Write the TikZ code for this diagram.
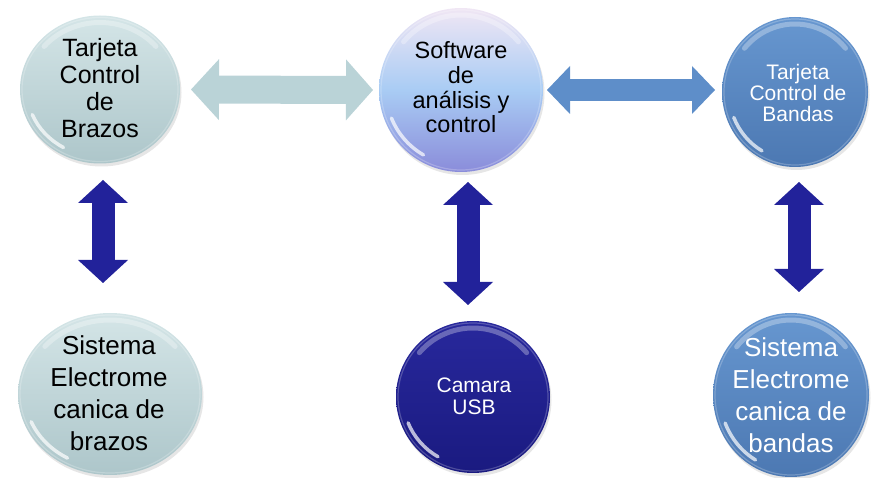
\documentclass[tikz,border=0pt]{standalone}
\usepackage{fontspec}
\setmainfont{Liberation Sans}
\usetikzlibrary{shapes.geometric,arrows.meta,shadows}

\definecolor{tlA}{HTML}{D4E5E7}
\definecolor{tlB}{HTML}{ADC6CA}
\definecolor{swA}{HTML}{F0E6F4}
\definecolor{swM}{HTML}{A9CCF4}
\definecolor{swB}{HTML}{8A8CDA}
\definecolor{stA}{HTML}{6797D0}
\definecolor{stB}{HTML}{4C78B2}
\definecolor{nvA}{HTML}{28289C}
\definecolor{nvB}{HTML}{1A1A80}
\definecolor{arL}{HTML}{BAD3D7}
\definecolor{arS}{HTML}{5E8EC9}
\definecolor{arN}{HTML}{22229A}

\newcommand{\bubblegloss}[3]{%
  \draw[white, opacity=.22, line width=1.2pt] (#1.center) ellipse [x radius={#2-2}, y radius={#3-2}];
  \draw[white, opacity=.3, line width=5pt, line cap=round]
    (#1.center) ++(-140:{#2-7} and {#3-7}) arc[start angle=-140, end angle=-40, x radius={#2-7}, y radius={#3-7}];
  \draw[white, opacity=.7, line width=3.5pt, line cap=round]
    (#1.center) ++(120:{#2-7} and {#3-7}) arc[start angle=120, end angle=158, x radius={#2-7}, y radius={#3-7}];
}

\tikzset{
  bubble/.style={ellipse, inner sep=0pt, outer sep=0pt, draw=none,
    drop shadow={opacity=.2, shadow xshift=1.5pt, shadow yshift=-3pt}},
  lbl/.style={align=center, inner sep=0pt},
  harrowL/.style={draw=arL, line width=28pt,
    {Triangle[length=28pt,width=61pt,line width=0pt]}-{Triangle[length=27pt,width=61pt,line width=0pt]}},
  harrowS/.style={draw=arS, line width=22pt,
    {Triangle[length=23pt,width=48pt,line width=0pt]}-{Triangle[length=23pt,width=48pt,line width=0pt]}},
  varrow/.style={draw=arN, line width=23pt,
    {Triangle[length=23pt,width=50pt,line width=0pt]}-{Triangle[length=23pt,width=50pt,line width=0pt]}},
}

\begin{document}
\begin{tikzpicture}[x=1pt,y=-1pt]
\useasboundingbox (0,0) rectangle (871,478);

% bubbles
\node[bubble, minimum width=160pt, minimum height=148pt, top color=tlA, bottom color=tlB] (tl) at (100,89.5) {};
\node[bubble, minimum width=164pt, minimum height=164pt, top color=swA, bottom color=swB, middle color=swM] (sw) at (461,90) {};
\node[bubble, minimum width=146pt, minimum height=150pt, top color=stA, bottom color=stB] (tr) at (795,92) {};
\node[bubble, minimum width=184pt, minimum height=162pt, top color=tlA, bottom color=tlB] (bl) at (110,394) {};
\node[bubble, minimum width=154pt, minimum height=152pt, top color=nvA, bottom color=nvB] (cam) at (473,397) {};
\node[bubble, minimum width=156pt, minimum height=164pt, top color=stA, bottom color=stB] (br) at (791,395) {};

\bubblegloss{tl}{80}{74}
\bubblegloss{sw}{82}{82}
\bubblegloss{tr}{73}{75}
\bubblegloss{bl}{92}{81}
\bubblegloss{cam}{77}{76}
\bubblegloss{br}{78}{82}

% labels
\node[lbl, font=\fontsize{25}{27}\selectfont] (tlt) at (100,88) {Tarjeta\\Control\\de\\Brazos};
\node[lbl, font=\fontsize{23.5}{24.7}\selectfont] (swt) at (461,87.5) {Software\\de\\análisis y\\control};
\node[lbl, text=white, font=\fontsize{21}{21.3}\selectfont] (trt) at (798,93) {Tarjeta\\Control de\\Bandas};
\node[lbl, font=\fontsize{26}{32}\selectfont] (blt) at (109,393) {Sistema\\Electrome\\canica de\\brazos};
\node[lbl, text=white, font=\fontsize{21}{22.3}\selectfont] (camt) at (474,396) {Camara\\USB};
\node[lbl, text=white, font=\fontsize{26}{32}\selectfont] (brt) at (791,395) {Sistema\\Electrome\\canica de\\bandas};

% connectors
\draw[harrowL, shorten <=11pt, shorten >=6pt] (tl.east) -- (sw.west);
\draw[harrowS, shorten <=4pt, shorten >=7pt] (sw.east) -- (sw.east -| tr.west);
\draw[varrow, shorten <=16.5pt, shorten >=30pt] ([xshift=3pt]tl.south) -- ([xshift=3pt]tl.south |- bl.north);
\draw[varrow, shorten <=10pt, shorten >=16pt] ([xshift=7pt]sw.south) -- ([xshift=7pt]sw.south |- cam.north);
\draw[varrow, shorten <=15pt, shorten >=21pt] ([xshift=4pt]tr.south) -- ([xshift=4pt]tr.south |- br.north);
\end{tikzpicture}
\end{document}
